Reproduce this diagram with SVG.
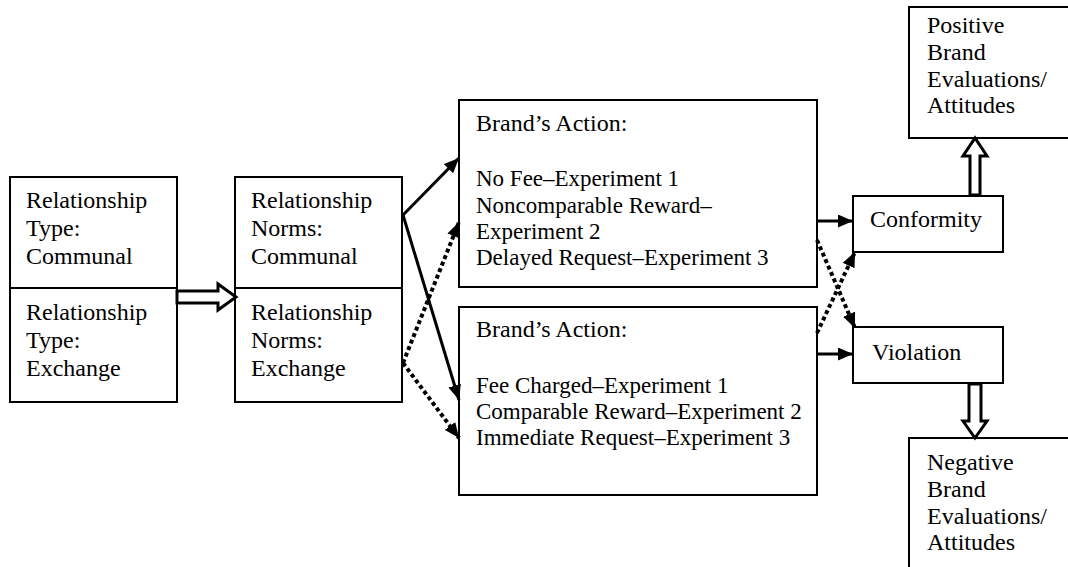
<svg xmlns="http://www.w3.org/2000/svg" width="1068" height="567" viewBox="0 0 1068 567">
  <style>
    .box { fill: #fff; stroke: #000; stroke-width: 2; }
    .t { font-family: "Liberation Serif", "Times New Roman", serif; font-size: 24px; fill: #000; }
    .s { font-size: 23px; }
    .solid { stroke: #000; stroke-width: 3; fill: none; }
    .dot { stroke: #000; stroke-width: 4; stroke-dasharray: 4 3; fill: none; }
    .hollow { fill: #fff; stroke: #000; stroke-width: 3; stroke-linejoin: miter; }
  </style>
  <defs>
    <marker id="head" viewBox="0 0 10 10" refX="10" refY="5" markerUnits="userSpaceOnUse" markerWidth="15" markerHeight="13" orient="auto" preserveAspectRatio="none">
      <path d="M0,0 L10,5 L0,10 z" fill="#000"/>
    </marker>
  </defs>
  <rect width="1068" height="567" fill="#fff"/>

  <!-- relationship type -->
  <g id="rel-type">
    <rect class="box" x="10" y="177" width="167" height="225"/>
    <line x1="10" y1="288" x2="177" y2="288" stroke="#000" stroke-width="2"/>
    <text class="t" x="26" y="208">Relationship</text>
    <text class="t" x="26" y="236">Type:</text>
    <text class="t" x="26" y="264">Communal</text>
    <text class="t" x="26" y="320">Relationship</text>
    <text class="t" x="26" y="348">Type:</text>
    <text class="t" x="26" y="376">Exchange</text>
  </g>

  <!-- relationship norms -->
  <g id="rel-norms">
    <rect class="box" x="235" y="177" width="167" height="225"/>
    <line x1="235" y1="288" x2="402" y2="288" stroke="#000" stroke-width="2"/>
    <text class="t" x="251" y="208">Relationship</text>
    <text class="t" x="251" y="236">Norms:</text>
    <text class="t" x="251" y="264">Communal</text>
    <text class="t" x="251" y="320">Relationship</text>
    <text class="t" x="251" y="348">Norms:</text>
    <text class="t" x="251" y="376">Exchange</text>
  </g>

  <!-- brand action: communal-consistent -->
  <g id="action-communal">
    <rect class="box" x="459" y="100" width="358" height="187"/>
    <text class="t" x="476" y="131">Brand’s Action:</text>
    <text class="t s" x="476" y="186">No Fee–Experiment 1</text>
    <text class="t s" x="476" y="213">Noncomparable Reward–</text>
    <text class="t s" x="476" y="239">Experiment 2</text>
    <text class="t s" x="476" y="265">Delayed Request–Experiment 3</text>
  </g>

  <!-- brand action: exchange-consistent -->
  <g id="action-exchange">
    <rect class="box" x="459" y="307" width="358" height="188"/>
    <text class="t" x="476" y="337">Brand’s Action:</text>
    <text class="t s" x="476" y="393">Fee Charged–Experiment 1</text>
    <text class="t s" x="476" y="419">Comparable Reward–Experiment 2</text>
    <text class="t s" x="476" y="445">Immediate Request–Experiment 3</text>
  </g>

  <g id="conformity">
    <rect class="box" x="853" y="196" width="150" height="56"/>
    <text class="t" x="870" y="227">Conformity</text>
  </g>

  <g id="violation">
    <rect class="box" x="853" y="327" width="150" height="56"/>
    <text class="t" x="872" y="360">Violation</text>
  </g>

  <g id="positive">
    <rect class="box" x="909" y="7" width="170" height="131"/>
    <text class="t" x="927" y="33">Positive</text>
    <text class="t" x="927" y="60">Brand</text>
    <text class="t" x="927" y="87">Evaluations/</text>
    <text class="t" x="927" y="113">Attitudes</text>
  </g>

  <g id="negative">
    <rect class="box" x="909" y="438" width="170" height="150"/>
    <text class="t" x="927" y="470">Negative</text>
    <text class="t" x="927" y="497">Brand</text>
    <text class="t" x="927" y="524">Evaluations/</text>
    <text class="t" x="927" y="550">Attitudes</text>
  </g>

  <g id="connectors">
    <!-- block arrows -->
    <polygon class="hollow" points="177,291 218,291 218,284 236,297 218,310 218,303 177,303"/>
    <polygon class="hollow" points="970,195 970,156 963,156 975,138 987,156 980,156 980,195"/>
    <polygon class="hollow" points="969,384 969,421 963,421 975,438 987,421 981,421 981,384"/>
    <!-- norms to actions -->
    <line class="solid" x1="403" y1="215" x2="459" y2="158" marker-end="url(#head)"/>
    <line class="solid" x1="403" y1="215" x2="459" y2="400" marker-end="url(#head)"/>
    <line class="dot" x1="403" y1="363" x2="459" y2="222" marker-end="url(#head)"/>
    <line class="dot" x1="403" y1="363" x2="459" y2="438" marker-end="url(#head)"/>
    <!-- actions to outcomes -->
    <line class="solid" x1="817" y1="221" x2="853" y2="221" marker-end="url(#head)"/>
    <line class="solid" x1="817" y1="354" x2="853" y2="354" marker-end="url(#head)"/>
    <line class="dot" x1="817" y1="240" x2="855" y2="328" marker-end="url(#head)"/>
    <line class="dot" x1="817" y1="333" x2="855" y2="252" marker-end="url(#head)"/>
  </g>
</svg>
